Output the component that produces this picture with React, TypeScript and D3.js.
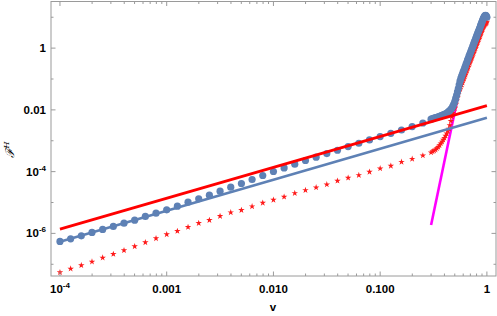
import React from "react";
import * as d3 from "d3";

// log10 of v for the sparse points
const sparseLogV = [
  -4.0, -3.9, -3.8, -3.7, -3.6, -3.5, -3.4, -3.3, -3.2, -3.1, -3.0, -2.9,
  -2.8, -2.7, -2.6, -2.5, -2.4, -2.3, -2.2, -2.1, -2.0, -1.9, -1.8, -1.7,
  -1.6, -1.5, -1.4, -1.3, -1.2, -1.1, -1.0, -0.9, -0.8, -0.7, -0.6,
];
// log10 of F^H for the blue dots (sparse part)
const blueSparseLog = [
  -6.26, -6.175, -6.078, -5.968, -5.871, -5.774, -5.668, -5.571, -5.451, -5.344, -5.238, -5.118,
  -4.989, -4.882, -4.762, -4.633, -4.504, -4.384, -4.255, -4.125, -3.996, -3.88, -3.76, -3.64,
  -3.533, -3.414, -3.307, -3.188, -3.081, -2.974, -2.865, -2.758, -2.651, -2.541, -2.425,
];
// log10 of F^H for the red stars (sparse part)
const redSparseLog = [
  -7.262, -7.145, -7.035, -6.919, -6.789, -6.67, -6.55, -6.421, -6.292, -6.163, -6.033, -5.926,
  -5.797, -5.668, -5.571, -5.442, -5.322, -5.248, -5.128, -5.012, -4.915, -4.817, -4.698, -4.601,
  -4.513, -4.416, -4.299, -4.202, -4.116, -4.009, -3.899, -3.815, -3.686, -3.589, -3.479,
];

// dense part, v from 0.30 to 1.00
const denseV = [
  0.3, 0.31, 0.32, 0.33, 0.34, 0.35, 0.36, 0.37, 0.38, 0.39,
  0.4, 0.41, 0.42, 0.43, 0.44, 0.45, 0.46, 0.47, 0.48, 0.49,
  0.5, 0.51, 0.52, 0.53, 0.54, 0.55, 0.56, 0.57, 0.58, 0.59,
  0.6, 0.61, 0.62, 0.63, 0.64, 0.65, 0.66, 0.67, 0.68, 0.69,
  0.7, 0.71, 0.72, 0.73, 0.74, 0.75, 0.76, 0.77, 0.78, 0.79,
  0.8, 0.81, 0.82, 0.83, 0.84, 0.85, 0.86, 0.87, 0.88, 0.89,
  0.9, 0.91, 0.92, 0.93, 0.94, 0.95, 0.96, 0.97, 0.98, 0.99, 1.0,
];
const blueDenseLog = [
  -2.3, -2.28, -2.265, -2.25, -2.24, -2.225, -2.21, -2.195, -2.18, -2.16,
  -2.145, -2.13, -2.11, -2.08, -2.05, -2.02, -1.98, -1.94, -1.88, -1.81,
  -1.73, -1.63, -1.53, -1.42, -1.31, -1.19, -1.07, -0.98, -0.91, -0.84,
  -0.77, -0.71, -0.64, -0.58, -0.51, -0.45, -0.38, -0.33, -0.26, -0.21,
  -0.15, -0.1, -0.04, 0.01, 0.07, 0.12, 0.18, 0.23, 0.28, 0.33,
  0.38, 0.43, 0.48, 0.53, 0.57, 0.62, 0.66, 0.71, 0.76, 0.8,
  0.85, 0.89, 0.93, 0.97, 1.0, 1.03, 1.05, 1.06, 1.05, 1.03, 1.0,
];
const redDenseLog = [
  -3.38, -3.35, -3.32, -3.29, -3.25, -3.2, -3.15, -3.09, -3.03, -2.97,
  -2.91, -2.84, -2.77, -2.69, -2.61, -2.5, -2.36, -2.22, -2.1, -1.98,
  -1.95, -1.83, -1.71, -1.6, -1.5, -1.4, -1.33, -1.26, -1.19, -1.12,
  -1.05, -0.99, -0.92, -0.86, -0.79, -0.73, -0.66, -0.61, -0.54, -0.49,
  -0.43, -0.38, -0.32, -0.27, -0.21, -0.16, -0.1, -0.05, 0.0, 0.05,
  0.1, 0.15, 0.2, 0.25, 0.29, 0.34, 0.38, 0.43, 0.48, 0.52,
  0.57, 0.61, 0.65, 0.69, 0.72, 0.75, 0.77, 0.79, 0.8, 0.82, 0.85,
];

// straight reference lines (endpoints)
const lineV = [1e-4, 1];
const redLineVals = [1.38e-6, 1.38e-2];
const blueLineVals = [5.4e-7, 5.6e-3];
const magentaV = [0.3, 0.56];
const magentaVals = [1.86e-6, 5.6e-2];

const xMajor = [1e-4, 1e-3, 1e-2, 1e-1, 1];
const xLabels = ["10", "0.001", "0.010", "0.100", "1"];
const yDecades = [-7, -6, -5, -4, -3, -2, -1, 0, 1];
const yLabels: Record<number, string> = { 0: "1", [-2]: "0.01", [-4]: "10", [-6]: "10" };
const ySup: Record<number, string> = { [-4]: "-4", [-6]: "-6" };

const W = 497;
const H = 316;
const L = 51, R = 496, T = 1.5, B = 276;

export default function App() {
  const x = d3.scaleLog().domain([10 ** -4.084, 10 ** 0.0853]).range([L, R]);
  const y = d3.scaleLog().domain([10 ** -7.38, 10 ** 1.51]).range([B, T]);

  const blueDots = [
    ...sparseLogV.map((lv, i) => [10 ** lv, 10 ** blueSparseLog[i]]),
    ...denseV.map((v, i) => [v, 10 ** blueDenseLog[i]]),
  ];
  const redStars = [
    ...sparseLogV.map((lv, i) => [10 ** lv, 10 ** redSparseLog[i]]),
    ...denseV.map((v, i) => [v, 10 ** redDenseLog[i]]),
  ];

  const line = d3
    .line<number[]>()
    .x((d) => x(d[0]))
    .y((d) => y(d[1]));

  const star = d3.symbol().type(d3.symbolStar).size(13)();

  const xMinor: number[] = [];
  [1e-4, 1e-3, 1e-2, 1e-1].forEach((d) => {
    for (let k = 2; k <= 9; k++) xMinor.push(d * k);
  });

  const frame = "#9a9a9a";
  const font = "'Liberation Sans', Arial, sans-serif";

  return (
    <svg width={W} height={H} style={{ position: "absolute", left: 0, top: 0 }}>
      <rect width={W} height={H} fill="#fff" />
      <defs>
        <clipPath id="plot">
          <rect x={L} y={T} width={R - L} height={B - T} />
        </clipPath>
      </defs>
      <g clipPath="url(#plot)">
        <path d={line(magentaV.map((v, i) => [v, magentaVals[i]])) || ""} stroke="#ff00ff" strokeWidth={2.6} fill="none" />
        {redStars.map((d, i) => (
          <path key={"r" + i} d={star || ""} transform={`translate(${x(d[0])},${y(d[1])})`} fill="#ff1a1a" />
        ))}
        {blueDots.map((d, i) => (
          <circle key={"b" + i} cx={x(d[0])} cy={y(d[1])} r={3.6} fill="#5e81b5" />
        ))}
        <path d={line(lineV.map((v, i) => [v, blueLineVals[i]])) || ""} stroke="#5e81b5" strokeWidth={2.6} fill="none" />
        <path d={line(lineV.map((v, i) => [v, redLineVals[i]])) || ""} stroke="#ff0000" strokeWidth={2.8} fill="none" />
      </g>

      {/* frame */}
      <rect x={L} y={T} width={R - L} height={B - T} fill="none" stroke={frame} strokeWidth={1} />

      {/* x ticks */}
      {xMajor.map((d) => (
        <g key={"xm" + d}>
          <line x1={x(d)} x2={x(d)} y1={B} y2={B - 4.5} stroke={frame} />
          <line x1={x(d)} x2={x(d)} y1={T} y2={T + 4.5} stroke={frame} />
        </g>
      ))}
      {xMinor.map((d) => (
        <g key={"xn" + d}>
          <line x1={x(d)} x2={x(d)} y1={B} y2={B - 2.5} stroke={frame} />
          <line x1={x(d)} x2={x(d)} y1={T} y2={T + 2.5} stroke={frame} />
        </g>
      ))}
      {xMajor.map((d, i) => (
        <text key={"xl" + d} x={x(d)} y={293} textAnchor="middle" fontFamily={font} fontWeight="bold" fontSize={11.5}>
          {xLabels[i]}
          {i === 0 ? <tspan fontSize={8} dy={-5}>-4</tspan> : null}
        </text>
      ))}
      <text x={273} y={311} textAnchor="middle" fontFamily={font} fontWeight="bold" fontSize={11.5}>v</text>

      {/* y ticks */}
      {yDecades.map((e) => {
        const len = yLabels[e] !== undefined ? 4.5 : 2.5;
        const yy = y(10 ** e);
        return (
          <g key={"y" + e}>
            <line x1={L} x2={L + len} y1={yy} y2={yy} stroke={frame} />
            <line x1={R} x2={R - len} y1={yy} y2={yy} stroke={frame} />
          </g>
        );
      })}
      {yDecades
        .filter((e) => yLabels[e] !== undefined)
        .map((e) => (
          <text key={"yl" + e} x={46} y={y(10 ** e) + 4} textAnchor="end" fontFamily={font} fontWeight="bold" fontSize={11.5}>
            {yLabels[e]}
            {ySup[e] ? <tspan fontSize={8} dy={-5}>{ySup[e]}</tspan> : null}
          </text>
        ))}
      <text transform="translate(14,150) rotate(-90)" textAnchor="middle" fontFamily="'DejaVu Serif', serif" fontSize={12} fontStyle="italic">
        ℱ<tspan fontSize={8} dy={-5}>H</tspan>
      </text>
    </svg>
  );
}
